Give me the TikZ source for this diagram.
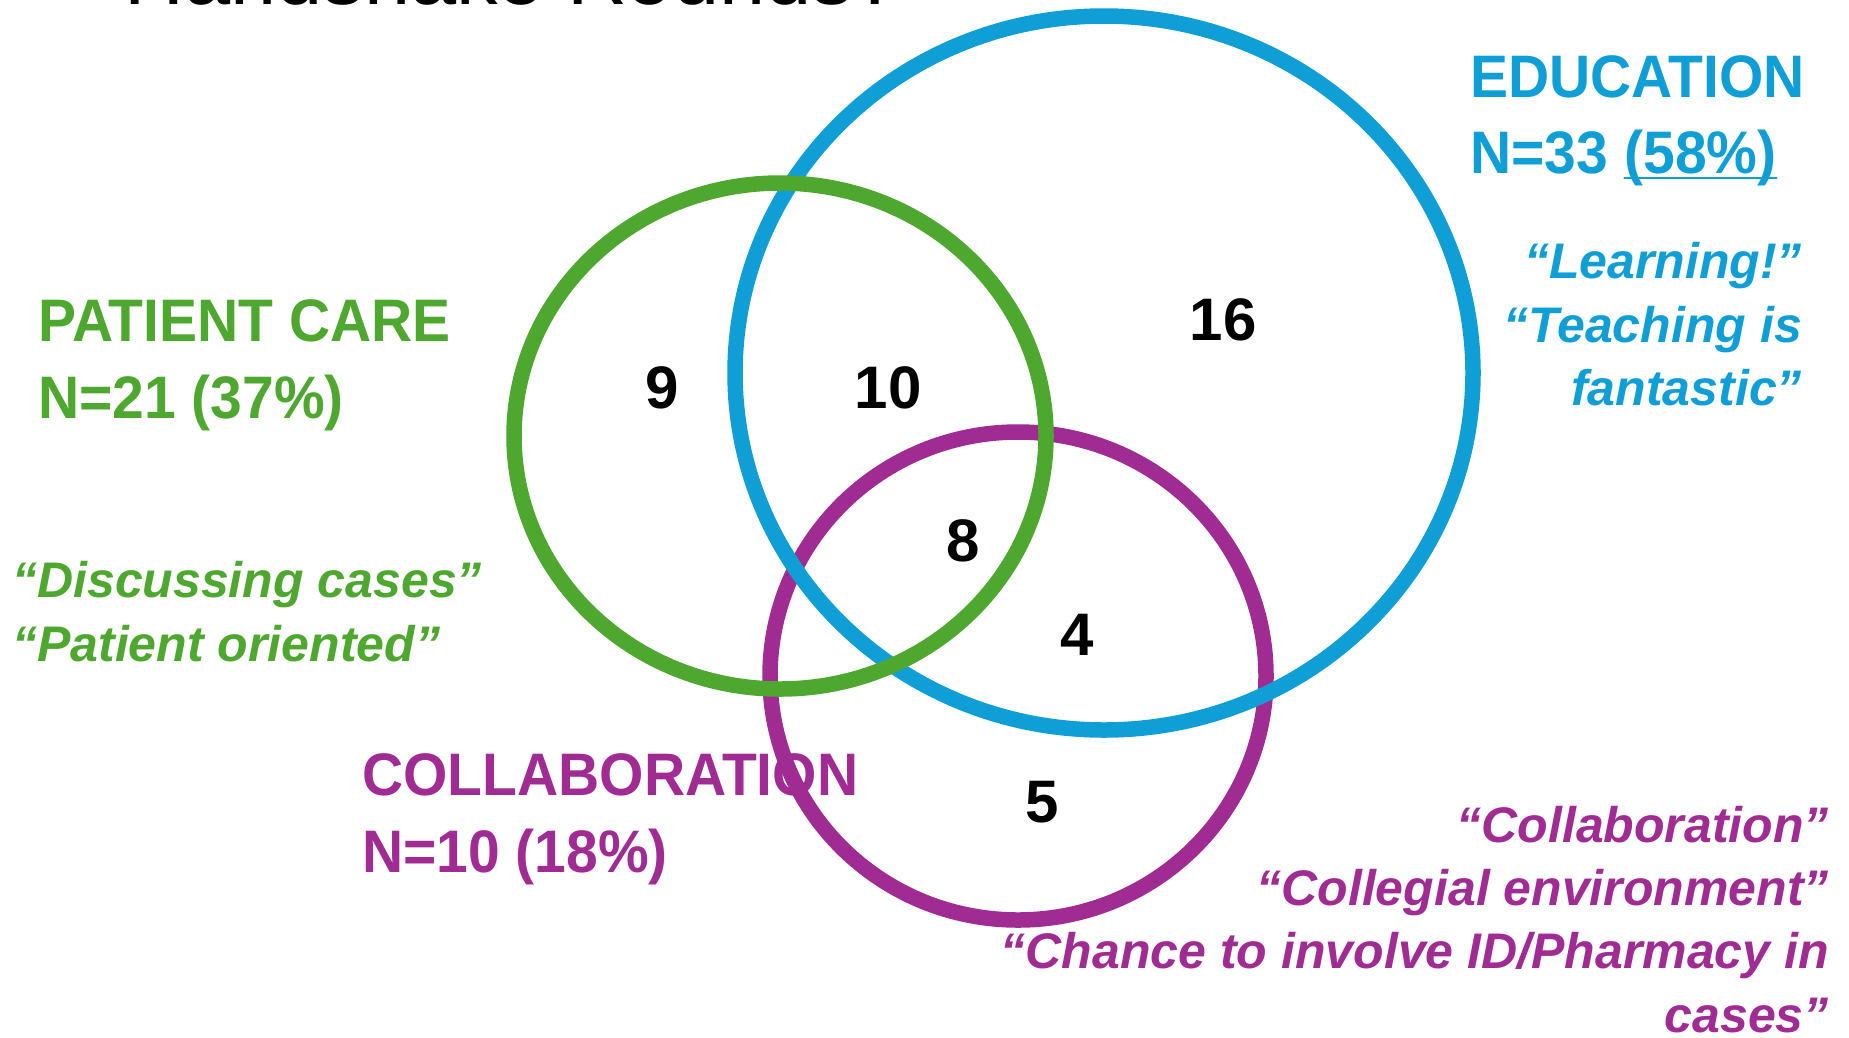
\documentclass[tikz,border=0pt]{standalone}
\usepackage{fontspec}
\setmainfont{Liberation Sans}
\newfontfamily\headfont{Liberation Sans}[FakeStretch=0.95]
\usetikzlibrary{positioning}
\definecolor{edublue}{HTML}{0F9ED5}
\definecolor{caregreen}{HTML}{4EA72E}
\definecolor{collabpurple}{HTML}{A02B93}
\begin{document}
\begin{tikzpicture}[x=1pt,y=-1pt,line join=round,line cap=round,
	ring/.style={line width=15.5pt},
	head/.style={inner sep=0pt,anchor=base west,font=\headfont\bfseries\fontsize{60}{72}\selectfont},
	quote/.style={inner sep=0pt,font=\bfseries\itshape\fontsize{50}{60}\selectfont},
	count/.style={inner sep=0pt,font=\bfseries\fontsize{60}{72}\selectfont}]
			\def \W{1849};
			\def \H{1037};
			\useasboundingbox (0,0) rectangle (\W,\H);
			\clip (0,0) rectangle (\W,\H);
			\fill[white] (0,0) rectangle (\W,\H);
			% title, cut by the top edge
			\node[inner sep=0pt,anchor=base west,font=\fontsize{83}{96}\selectfont] (title) at (124,4) {Handshake Rounds?};
			% the three rings
			\draw[ring,collabpurple] (1018,676) ellipse [x radius=248pt, y radius=244pt];
			\draw[ring,edublue] (1104,373) ellipse [x radius=369pt, y radius=357pt];
			\draw[ring,caregreen] (780,436) ellipse [x radius=266pt, y radius=253pt];
			% counts
			\node[count] (only care) at (662,388) {9};
			\node[count] (care edu) at (888,388) {10};
			\node[count] (only edu) at (1223,320) {16};
			\node[count] (all) at (963,541) {8};
			\node[count] (edu collab) at (1077,635) {4};
			\node[count] (only collab) at (1042,802) {5};
			% patient care
			\node[head,caregreen] (pc1) at (38,341) {PATIENT CARE};
			\node[head,caregreen] (pc2) at (38,418) {N=21 (37\%)};
			\node[quote,caregreen,anchor=base west] (pcq1) at (12,597) {“Discussing cases”};
			\node[quote,caregreen,anchor=base west] (pcq2) at (12,661) {“Patient oriented”};
			% education
			\node[head,edublue] (ed1) at (1470,97) {EDUCATION};
			\node[head,edublue] (ed2) at (1470,173) {N=33};
			\node[head,edublue,base right=16pt of ed2] (ed3) {(58\%)};
			\draw[edublue,line width=2pt] ([yshift=-5pt]ed3.base west) -- ([yshift=-5pt]ed3.base east);
			\node[quote,edublue,anchor=base east] (edq1) at (1802,278) {“Learning!”};
			\node[quote,edublue,anchor=base east] (edq2) at (1802,342) {“Teaching is};
			\node[quote,edublue,anchor=base east] (edq3) at (1802,405) {fantastic”};
			% collaboration
			\node[head,collabpurple] (co1) at (362,795) {COLLABORATION};
			\node[head,collabpurple] (co2) at (362,872) {N=10 (18\%)};
			\node[quote,collabpurple,anchor=base east] (coq1) at (1829,842) {“Collaboration”};
			\node[quote,collabpurple,anchor=base east] (coq2) at (1829,905) {“Collegial environment”};
			\node[quote,collabpurple,anchor=base east] (coq3) at (1829,968) {“Chance to involve ID/Pharmacy in};
			\node[quote,collabpurple,anchor=base east] (coq4) at (1829,1032) {cases”};
\end{tikzpicture}
\end{document}
